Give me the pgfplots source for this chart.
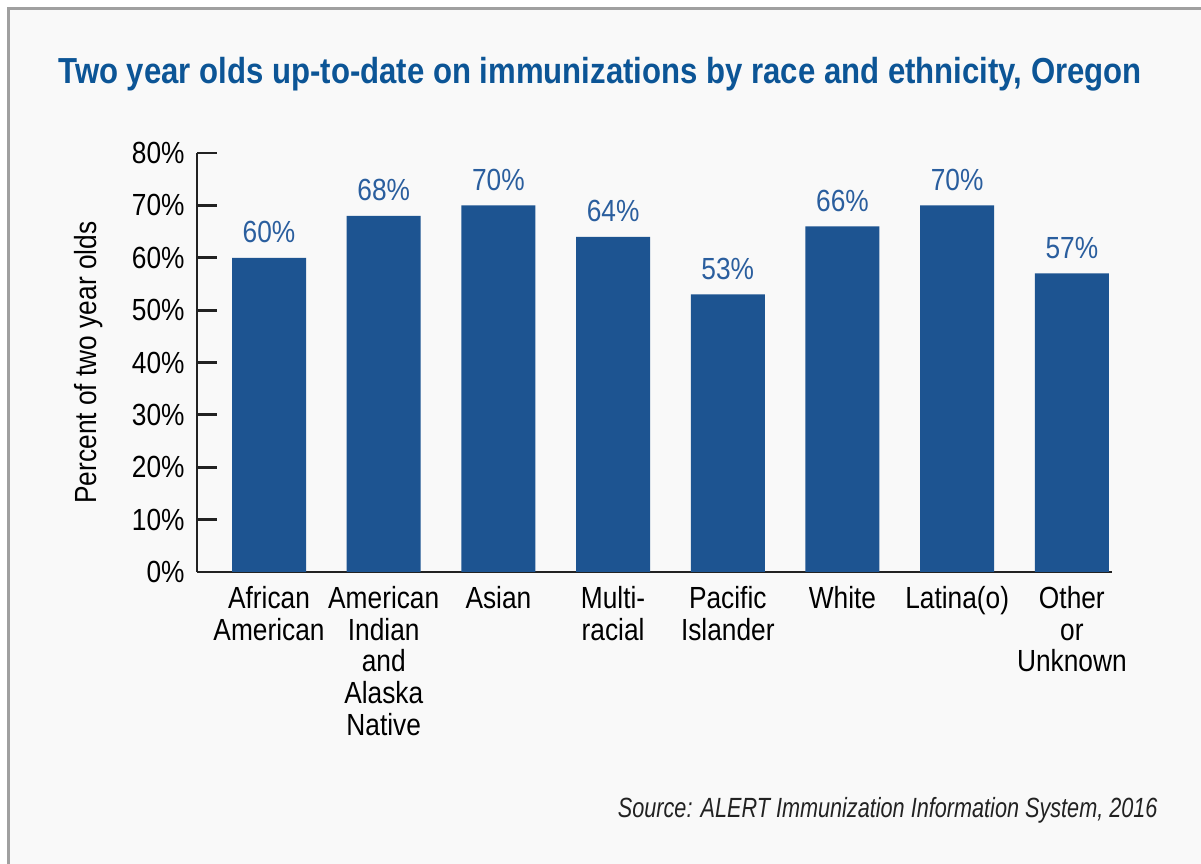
\documentclass[border=0pt]{standalone}
\usepackage{pgfplots}
\pgfplotsset{compat=1.18}
\usepackage{fontspec}
\setmainfont{Liberation Sans}[FakeStretch=0.86]
\newfontfamily\titlefont{Liberation Sans}[FakeStretch=0.86]
\newfontfamily\sourcefont{Liberation Sans}[FakeStretch=0.78]

\definecolor{barblue}{RGB}{29,84,145}
\definecolor{titleblue}{RGB}{12,85,150}
\definecolor{valblue}{RGB}{42,94,158}
\definecolor{panel}{RGB}{249,249,249}
\definecolor{frame}{RGB}{160,160,160}
\definecolor{axisdark}{RGB}{34,34,34}

\begin{document}
\begin{tikzpicture}
% 1 px of the reference = 0.01 cm
\useasboundingbox (0,0) rectangle (12.01,8.63);
\fill[white] (0,0) rectangle (12.01,8.63);
\filldraw[fill=panel, draw=frame, line width=0.03cm] (0.09,-0.5) rectangle (12.5,8.54);

\node[anchor=base, text=titleblue, font=\titlefont\bfseries\fontsize{10.3}{11}\selectfont]
  at (6.00,7.79) {Two year olds up-to-date on immunizations by race and ethnicity, Oregon};

\begin{axis}[
  at={(1.97cm,2.91cm)}, anchor=south west,
  scale only axis,
  width=9.15cm, height=4.19cm,
  ybar, bar width=0.74cm,
  xmin=-0.628, xmax=7.35,
  ymin=0, ymax=80,
  ytick={0,10,...,80},
  yticklabel={\pgfmathprintnumber{\tick}\%},
  xtick={0,...,7},
  xticklabels={African\\American, American\\Indian\\and\\Alaska\\Native, Asian, Multi-\\racial, Pacific\\Islander, White, Latina(o), Other\\or\\Unknown},
  axis x line=bottom, axis y line=left,
  axis line style={-, axisdark, line width=0.85pt},
  tick align=inside,
  ytick style={axisdark, line width=0.85pt},
  major tick length=0.2cm,
  x tick style={draw=none},
  tick label style={font=\fontsize{8.7}{9}\selectfont, text=black},
  xticklabel style={align=center, yshift=-0.02cm},
  /pgf/number format/assume math mode=true,
  ylabel={Percent of two year olds},
  ylabel style={at={(axis description cs:-0.119,0.5)}, anchor=center, font=\fontsize{8.7}{9}\selectfont},
  nodes near coords={\pgfmathprintnumber{\pgfplotspointmeta}\%},
  every node near coord/.append style={font=\fontsize{8.7}{9}\selectfont, text=valblue, anchor=base, yshift=0.15cm},
  clip=false,
]
\addplot[fill=barblue, draw=none] coordinates {
  (0,60) (1,68) (2,70) (3,64) (4,53) (5,66) (6,70) (7,57)
};
\end{axis}

\node[anchor=base east, font=\sourcefont\itshape\fontsize{7.9}{9}\selectfont, text=axisdark]
  at (11.70,0.46) {Source: ALERT Immunization Information System, 2016};
\end{tikzpicture}
\end{document}
